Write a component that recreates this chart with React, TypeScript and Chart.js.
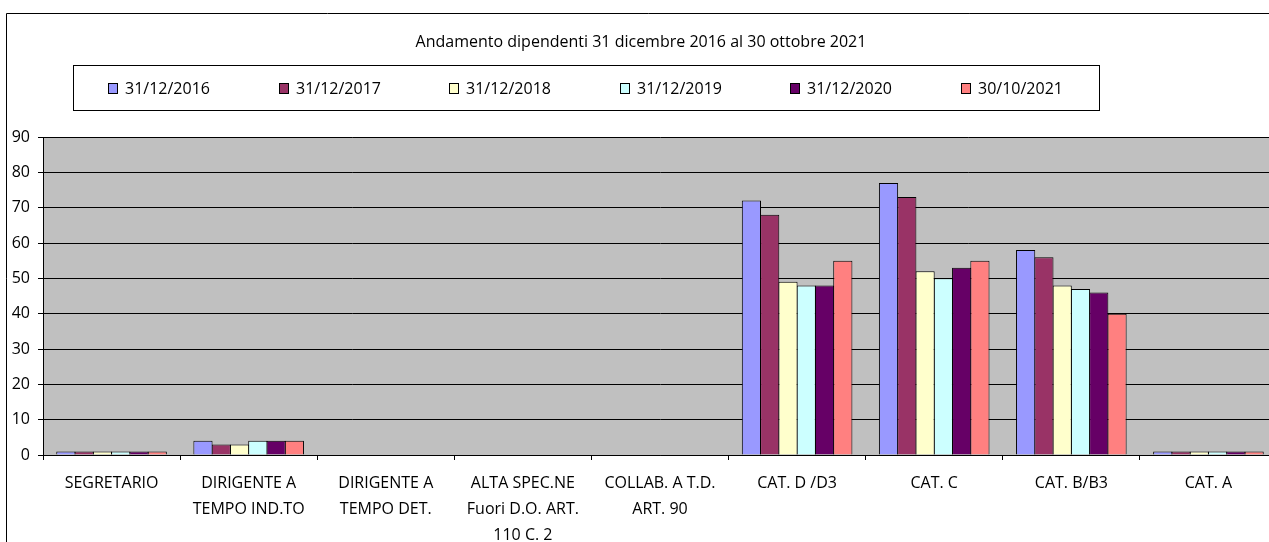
import React, { useEffect, useRef } from 'react';
import { Chart, registerables } from 'chart.js';

Chart.register(...registerables);

const TITLE = 'Andamento dipendenti 31 dicembre 2016 al 30 ottobre 2021';

const categories: string[][] = [
  ['SEGRETARIO'],
  ['DIRIGENTE A', 'TEMPO IND.TO'],
  ['DIRIGENTE A', 'TEMPO DET.'],
  ['ALTA SPEC.NE', 'Fuori D.O. ART.', '110 C. 2'],
  ['COLLAB. A T.D.', 'ART. 90'],
  ['CAT. D /D3'],
  ['CAT. C'],
  ['CAT. B/B3'],
  ['CAT. A'],
];

const seriesLabels = ['31/12/2016', '31/12/2017', '31/12/2018', '31/12/2019', '31/12/2020', '30/10/2021'];
const seriesColors = ['#9999FF', '#993366', '#FFFFCC', '#CCFFFF', '#660066', '#FF8080'];

const values2016 = [1, 4, 0, 0, 0, 72, 77, 58, 1];
const values2017 = [1, 3, 0, 0, 0, 68, 73, 56, 1];
const values2018 = [1, 3, 0, 0, 0, 49, 52, 48, 1];
const values2019 = [1, 4, 0, 0, 0, 48, 50, 47, 1];
const values2020 = [1, 4, 0, 0, 0, 48, 53, 46, 1];
const values2021 = [1, 4, 0, 0, 0, 55, 55, 40, 1];

const seriesValues = [values2016, values2017, values2018, values2019, values2020, values2021];

const yMin = 0;
const yMax = 90;
const yStep = 10;

const FONT = "'Open Sans', sans-serif";

const decorPlugin = {
  id: 'decor',
  beforeDraw(chart: any) {
    const { ctx, chartArea } = chart;
    ctx.save();
    ctx.fillStyle = '#ffffff';
    ctx.fillRect(0, 0, chart.width, chart.height);
    ctx.fillStyle = '#C0C0C0';
    ctx.fillRect(chartArea.left, chartArea.top, chartArea.right - chartArea.left, chartArea.bottom - chartArea.top);
    ctx.restore();
  },
  afterDraw(chart: any) {
    const { ctx } = chart;
    ctx.save();
    // outer chart border (left and top visible)
    ctx.strokeStyle = '#000';
    ctx.lineWidth = 1;
    ctx.beginPath();
    ctx.moveTo(6.5, chart.height + 5);
    ctx.lineTo(6.5, 13.5);
    ctx.lineTo(chart.width + 5, 13.5);
    ctx.stroke();

    // title
    ctx.fillStyle = '#000';
    ctx.font = `16px ${FONT}`;
    ctx.textAlign = 'center';
    ctx.textBaseline = 'middle';
    ctx.fillText(TITLE, 641, 42);

    // legend box
    ctx.strokeStyle = '#000';
    ctx.strokeRect(73.5, 65.5, 1026, 45);
    ctx.textAlign = 'left';
    seriesLabels.forEach((label, i) => {
      const x = Math.round(108 + i * 170.6);
      ctx.fillStyle = seriesColors[i];
      ctx.fillRect(x, 83, 9, 10);
      ctx.strokeStyle = '#000';
      ctx.strokeRect(x + 0.5, 83.5, 9, 10);
      ctx.fillStyle = '#000';
      ctx.fillText(label, x + 17, 89);
    });
    ctx.restore();
  },
};

export default function App() {
  const canvasRef = useRef<HTMLCanvasElement | null>(null);

  useEffect(() => {
    if (!canvasRef.current) return;
    Chart.defaults.font.family = FONT;
    const chart = new Chart(canvasRef.current, {
      type: 'bar',
      data: {
        labels: categories,
        datasets: seriesLabels.map((label, i) => ({
          label,
          data: seriesValues[i],
          backgroundColor: seriesColors[i],
          borderColor: '#000',
          borderWidth: 1,
          categoryPercentage: 0.8,
          barPercentage: 1.05,
        })),
      },
      options: {
        responsive: false,
        animation: false,
        devicePixelRatio: 1,
        layout: { padding: { left: 6, right: 13, top: 137, bottom: 0 } },
        plugins: {
          legend: { display: false },
          title: { display: false },
          tooltip: { enabled: false },
        },
        scales: {
          x: {
            offset: true,
            grid: {
              display: true,
              drawOnChartArea: false,
              drawTicks: true,
              tickLength: 5,
              color: '#000',
              offset: true,
            },
            border: { display: true, color: '#000', width: 1 },
            ticks: {
              color: '#000',
              font: { size: 16, family: FONT, lineHeight: 1.6 },
              autoSkip: false,
              maxRotation: 0,
              minRotation: 0,
              padding: 11,
            },
            afterFit(scale: any) {
              scale.height = 87;
            },
          },
          y: {
            min: yMin,
            max: yMax,
            grid: {
              color: '#000',
              lineWidth: 1,
              drawTicks: true,
              tickLength: 5,
            },
            border: { display: true, color: '#000', width: 1 },
            ticks: {
              stepSize: yStep,
              color: '#000',
              font: { size: 16, family: FONT },
              padding: 8,
            },
            afterFit(scale: any) {
              scale.width = 37;
            },
          },
        },
      },
      plugins: [decorPlugin],
    });
    return () => chart.destroy();
  }, []);

  return (
    <div
      style={{
        position: 'fixed',
        left: 0,
        top: 0,
        width: 1269,
        height: 542,
        overflow: 'hidden',
        background: '#fff',
      }}
    >
      <canvas ref={canvasRef} width={1290} height={542} style={{ width: 1290, height: 542, display: 'block' }} />
    </div>
  );
}
